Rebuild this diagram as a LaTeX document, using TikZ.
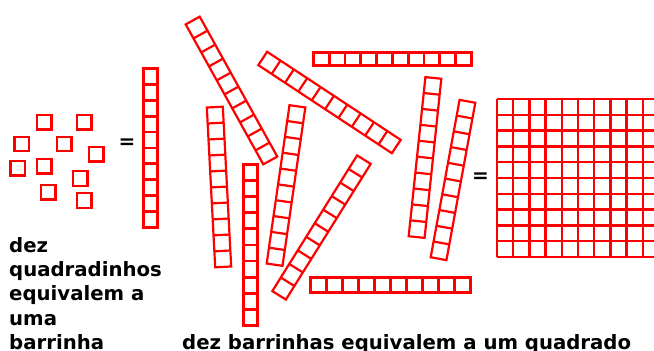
\documentclass[tikz,border=0pt]{standalone}
\usepackage{fontspec}
\setmainfont{DejaVu Sans}
\newcommand\drawtilt[3]{%
  \begin{scope}[shift={(#1,#2)},rotate=#3]
    \draw[tiltbar] (-8,-80) rectangle (8,80);
    \foreach \k in {1,...,9}{\draw[tiltbar] (-8,-80+16*\k) -- (8,-80+16*\k);}
  \end{scope}}
% vertical straight bar: left, top, width, pitch
\newcommand\drawvbar[4]{%
  \draw[straightbar] (#1,#2) rectangle ({#1+#3},{#2+10*#4});
  \foreach \k in {1,...,9}{\draw[straightbar] (#1,{#2+#4*\k}) -- ({#1+#3},{#2+#4*\k});}}
% horizontal straight bar: left, top, height, pitch
\newcommand\drawhbar[4]{%
  \draw[straightbar] (#1,#2) rectangle ({#1+10*#4},{#2+#3});
  \foreach \k in {1,...,9}{\draw[straightbar] ({#1+#4*\k},#2) -- ({#1+#4*\k},{#2+#3});}}
\begin{document}
\begin{tikzpicture}[x=1pt,y=-1pt,
  unitsq/.style={draw=red,line width=2.3pt,minimum size=14.4pt,inner sep=0pt},
  straightbar/.style={draw=red,line width=2.8pt},
  tiltbar/.style={draw=red,line width=2.2pt},
  gridline/.style={draw=red,line width=2.4pt},
  lbl/.style={anchor=base west,inner sep=0pt,font=\fontsize{19.7}{24}\selectfont\bfseries},
  eq/.style={inner sep=0pt,font=\fontsize{20}{24}\selectfont\bfseries}]
\useasboundingbox (0,0) rectangle (654,351);
% ten small squares
\node[unitsq] (u1) at (44.2,122.3) {};
\node[unitsq] (u2) at (84.3,122.3) {};
\node[unitsq] (u3) at (21.7,144) {};
\node[unitsq] (u4) at (64.3,144) {};
\node[unitsq] (u5) at (96.2,154.3) {};
\node[unitsq] (u6) at (17.8,168.3) {};
\node[unitsq] (u7) at (44.2,166.2) {};
\node[unitsq] (u8) at (80.3,178.5) {};
\node[unitsq] (u9) at (48.3,192.2) {};
\node[unitsq] (u10) at (84.3,200.5) {};
% equals signs
\node[eq] (eq1) at (127,143.5) {=};
\node[eq] (eq2) at (480.5,178) {=};
% left bar
\drawvbar{143.4}{68.4}{14.2}{15.9}
% straight bars in the middle
\drawvbar{243.4}{164.4}{14.2}{16.1}
\drawhbar{313.4}{52.4}{13.4}{15.8}
\drawhbar{310.4}{277.4}{15.2}{16}
% tilted bars
\drawtilt{231.5}{90.5}{29}
\drawtilt{329.5}{102.5}{56.6}
\drawtilt{219}{187}{3}
\drawtilt{286}{185.5}{-8.2}
\drawtilt{321.5}{227.5}{-32}
\drawtilt{425}{157.5}{-6}
\drawtilt{453}{180}{-10.4}
% big square
\foreach \k in {0,...,10}{
  \draw[gridline] ({497+16.2*\k},99) -- ({497+16.2*\k},257);
  \draw[gridline] (497,{99+15.8*\k}) -- (659,{99+15.8*\k});
}
% texts
\node[lbl] (t1) at (9,252) {dez};
\node[lbl] (t2) at (9,276.5) {quadradinhos};
\node[lbl] (t3) at (9,300.5) {equivalem a};
\node[lbl] (t4) at (9,325) {uma};
\node[lbl] (t5) at (9,349) {barrinha};
\node[lbl] (t6) at (182,349) {dez barrinhas equivalem a um quadrado};
\end{tikzpicture}
\end{document}
